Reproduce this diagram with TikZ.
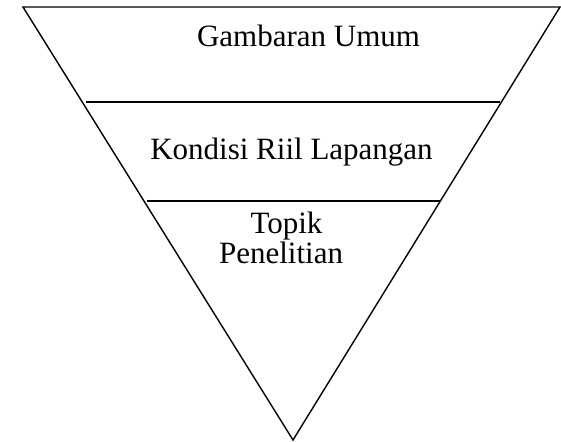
\documentclass[tikz,border=0pt]{standalone}
\usepackage{fontspec}
\setmainfont{Liberation Serif}
\begin{document}
\begin{tikzpicture}[x=1pt,y=-1pt,
  edge/.style={line width=1.4pt,black},
  lbl/.style={anchor=base,inner sep=0pt,font=\fontsize{31}{36}\selectfont}]
\useasboundingbox (0,0) rectangle (561,441);
\coordinate (tl) at (23,7);
\coordinate (tr) at (560,7);
\coordinate (bt) at (293,440);
\draw[edge,line join=miter] (tl) -- (tr) -- (bt) -- cycle;
\coordinate (a1) at (86,102);
\coordinate (a2) at (500,102);
\coordinate (b1) at (147,201);
\coordinate (b2) at (440,201);
\draw[edge] (a1) -- (a2);
\draw[edge] (b1) -- (b2);
\node[lbl] (gu) at (308.5,47) {Gambaran Umum};
\node[lbl] (kr) at (291.5,159) {Kondisi Riil Lapangan};
\node[lbl] (tp) at (286.5,233) {Topik};
\node[lbl] (pn) at (281,263) {Penelitian};
\end{tikzpicture}
\end{document}
